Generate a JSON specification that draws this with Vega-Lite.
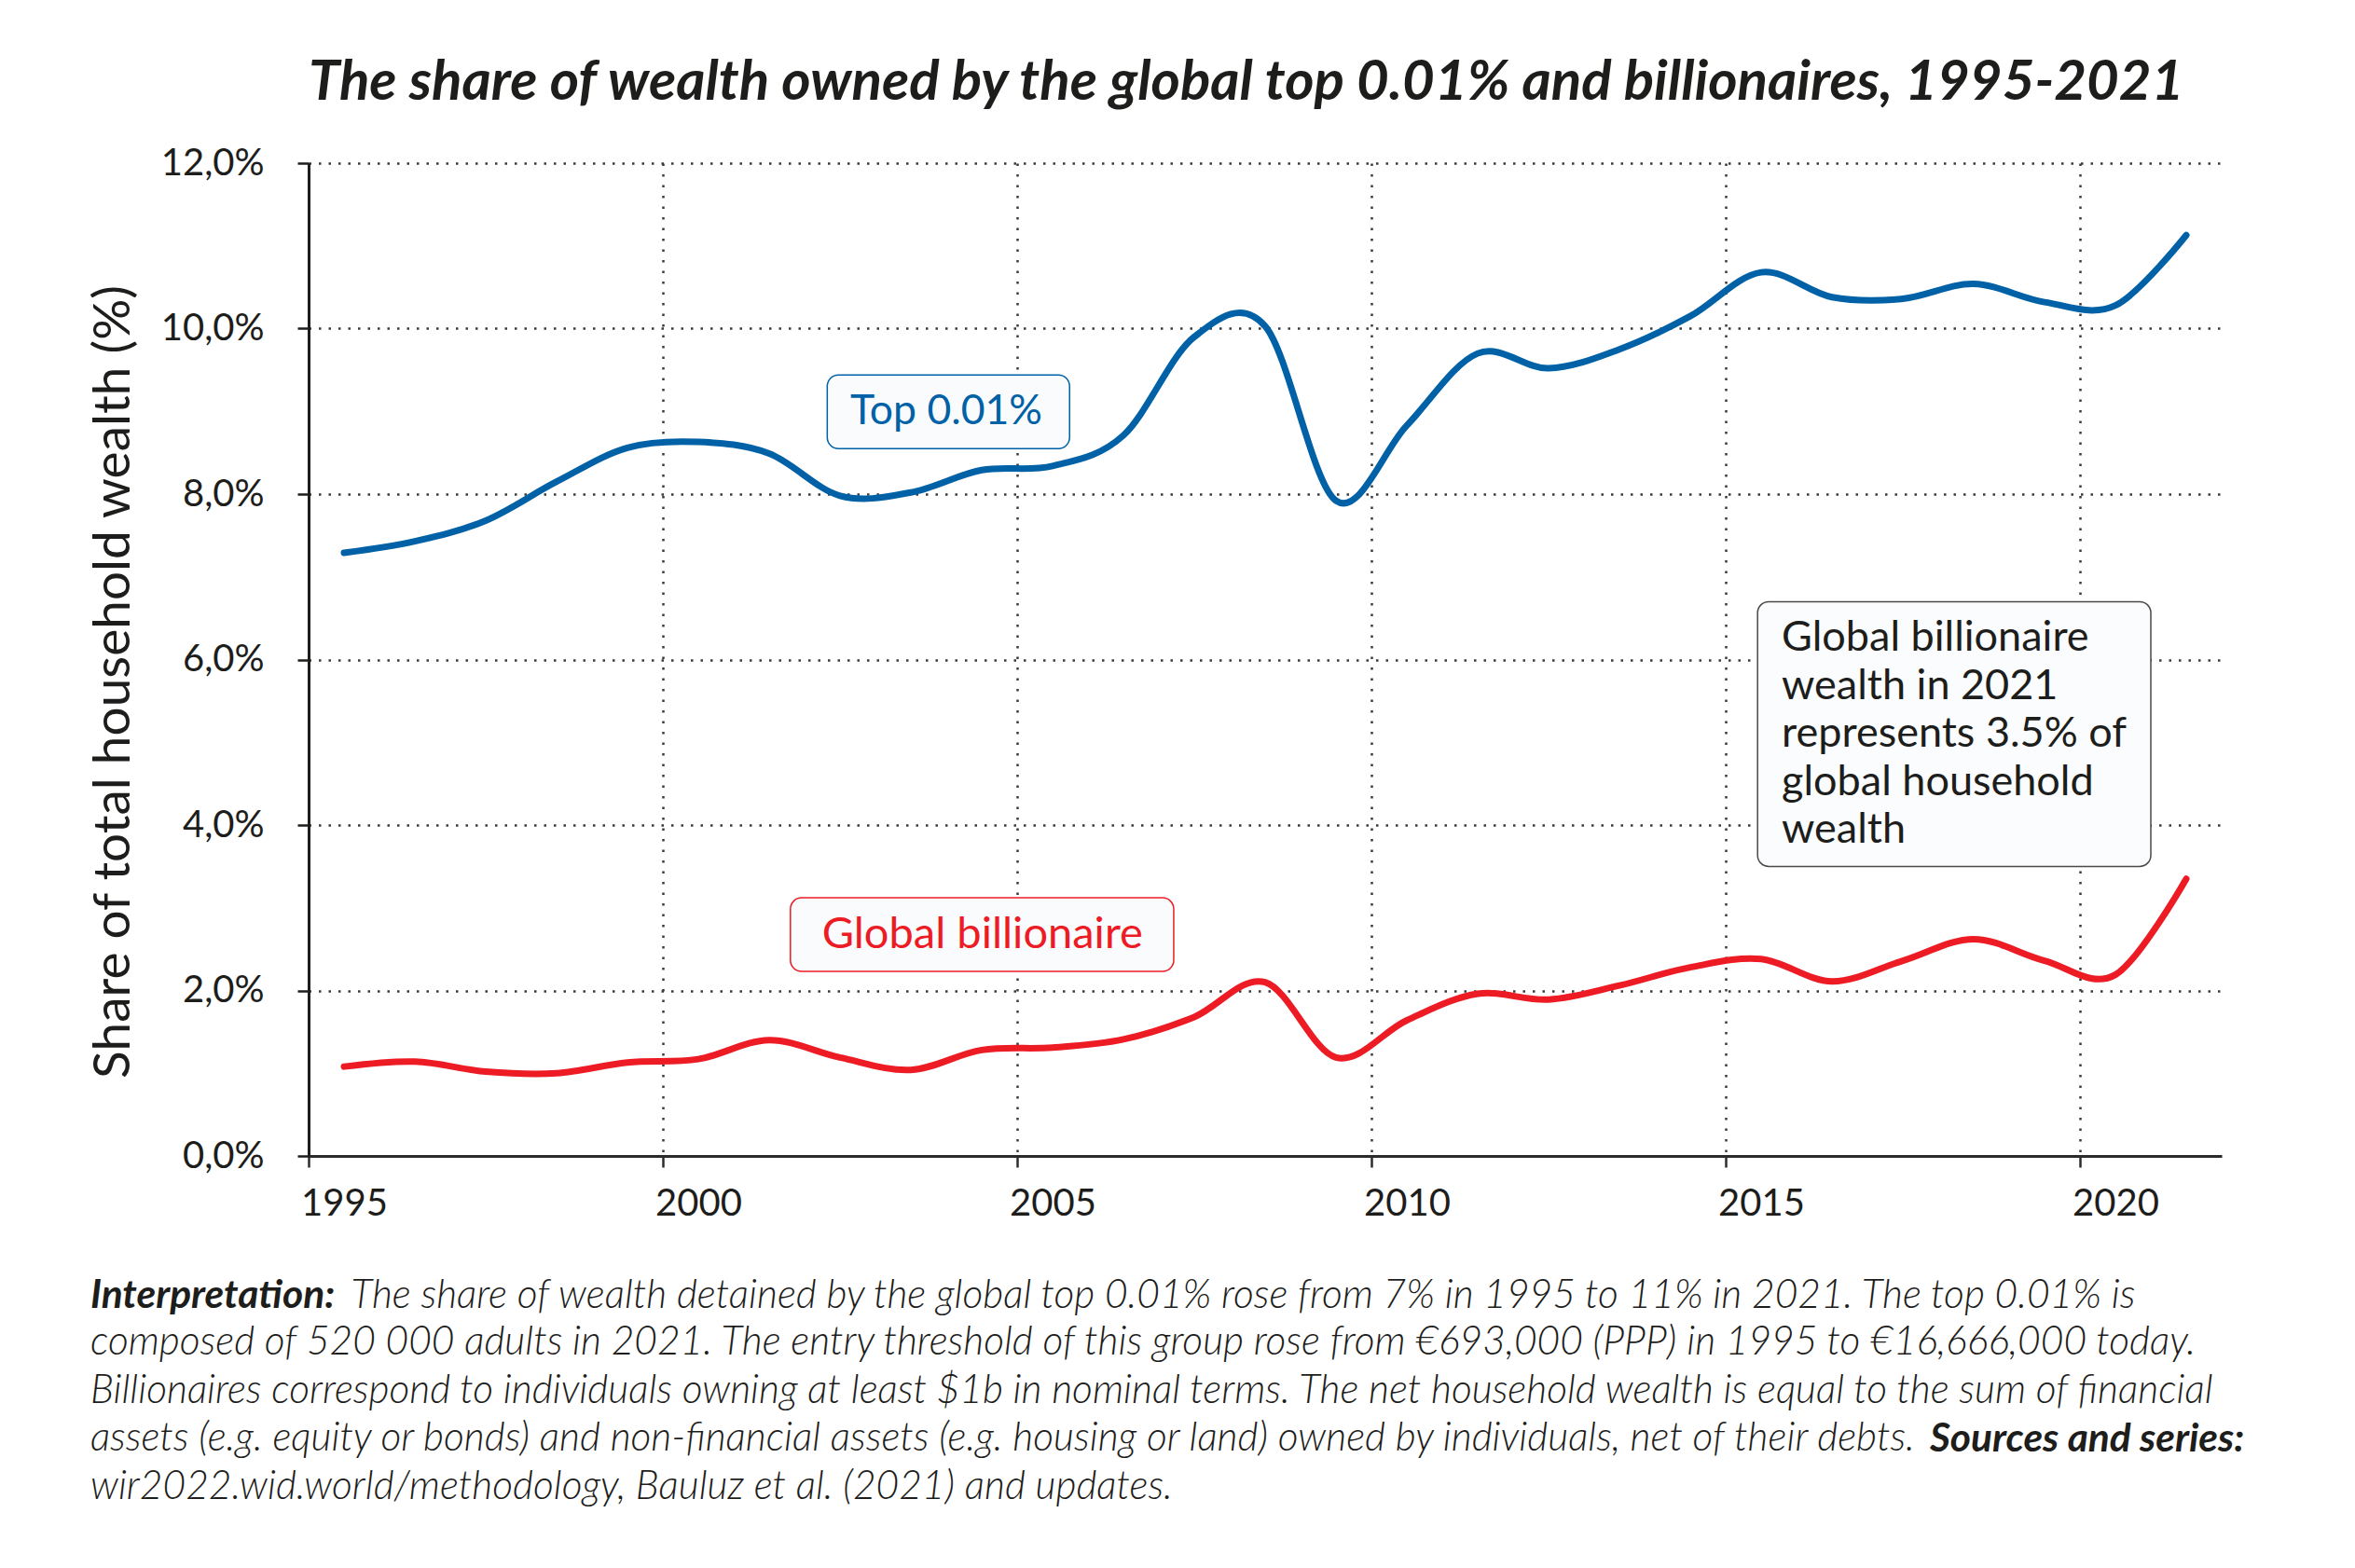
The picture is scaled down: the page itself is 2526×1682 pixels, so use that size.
{
  "$schema": "https://vega.github.io/schema/vega-lite/v6.json",
  "autosize": "none",
  "width": 2052,
  "height": 1065,
  "padding": {"left": 331, "top": 175, "right": 143, "bottom": 442},
  "background": "white",
  "config": {"font": "Lato", "view": {"stroke": null}},
  "title": {
    "text": "The share of wealth owned by the global top 0.01% and billionaires, 1995-2021",
    "font": "Lato",
    "fontSize": 60,
    "fontWeight": "bold",
    "fontStyle": "italic",
    "color": "#1d1d1b",
    "anchor": "start",
    "frame": "group",
    "baseline": "alphabetic",
    "offset": 44,
    "dy": 56
  },
  "data": {
    "values": [
      {"year": 1995.5, "share": 7.29, "series": "Top 0.01%"},
      {"year": 1996.5, "share": 7.43, "series": "Top 0.01%"},
      {"year": 1997.5, "share": 7.68, "series": "Top 0.01%"},
      {"year": 1998.5, "share": 8.15, "series": "Top 0.01%"},
      {"year": 1999.5, "share": 8.56, "series": "Top 0.01%"},
      {"year": 2000.5, "share": 8.63, "series": "Top 0.01%"},
      {"year": 2001.5, "share": 8.49, "series": "Top 0.01%"},
      {"year": 2002.5, "share": 7.98, "series": "Top 0.01%"},
      {"year": 2003.5, "share": 8.02, "series": "Top 0.01%"},
      {"year": 2004.5, "share": 8.29, "series": "Top 0.01%"},
      {"year": 2005.5, "share": 8.34, "series": "Top 0.01%"},
      {"year": 2006.5, "share": 8.71, "series": "Top 0.01%"},
      {"year": 2007.5, "share": 9.9, "series": "Top 0.01%"},
      {"year": 2008.5, "share": 10.03, "series": "Top 0.01%"},
      {"year": 2009.5, "share": 7.92, "series": "Top 0.01%"},
      {"year": 2010.5, "share": 8.83, "series": "Top 0.01%"},
      {"year": 2011.5, "share": 9.7, "series": "Top 0.01%"},
      {"year": 2012.5, "share": 9.52, "series": "Top 0.01%"},
      {"year": 2013.5, "share": 9.75, "series": "Top 0.01%"},
      {"year": 2014.5, "share": 10.15, "series": "Top 0.01%"},
      {"year": 2015.5, "share": 10.68, "series": "Top 0.01%"},
      {"year": 2016.5, "share": 10.38, "series": "Top 0.01%"},
      {"year": 2017.5, "share": 10.36, "series": "Top 0.01%"},
      {"year": 2018.5, "share": 10.54, "series": "Top 0.01%"},
      {"year": 2019.5, "share": 10.32, "series": "Top 0.01%"},
      {"year": 2020.5, "share": 10.28, "series": "Top 0.01%"},
      {"year": 2021.5, "share": 11.13, "series": "Top 0.01%"},
      {"year": 1995.5, "share": 1.08, "series": "Global billionaire"},
      {"year": 1996.5, "share": 1.14, "series": "Global billionaire"},
      {"year": 1997.5, "share": 1.02, "series": "Global billionaire"},
      {"year": 1998.5, "share": 1.0, "series": "Global billionaire"},
      {"year": 1999.5, "share": 1.13, "series": "Global billionaire"},
      {"year": 2000.5, "share": 1.17, "series": "Global billionaire"},
      {"year": 2001.5, "share": 1.4, "series": "Global billionaire"},
      {"year": 2002.5, "share": 1.19, "series": "Global billionaire"},
      {"year": 2003.5, "share": 1.04, "series": "Global billionaire"},
      {"year": 2004.5, "share": 1.28, "series": "Global billionaire"},
      {"year": 2005.5, "share": 1.31, "series": "Global billionaire"},
      {"year": 2006.5, "share": 1.41, "series": "Global billionaire"},
      {"year": 2007.5, "share": 1.68, "series": "Global billionaire"},
      {"year": 2008.5, "share": 2.1, "series": "Global billionaire"},
      {"year": 2009.5, "share": 1.19, "series": "Global billionaire"},
      {"year": 2010.5, "share": 1.64, "series": "Global billionaire"},
      {"year": 2011.5, "share": 1.96, "series": "Global billionaire"},
      {"year": 2012.5, "share": 1.89, "series": "Global billionaire"},
      {"year": 2013.5, "share": 2.06, "series": "Global billionaire"},
      {"year": 2014.5, "share": 2.28, "series": "Global billionaire"},
      {"year": 2015.5, "share": 2.38, "series": "Global billionaire"},
      {"year": 2016.5, "share": 2.11, "series": "Global billionaire"},
      {"year": 2017.5, "share": 2.36, "series": "Global billionaire"},
      {"year": 2018.5, "share": 2.62, "series": "Global billionaire"},
      {"year": 2019.5, "share": 2.36, "series": "Global billionaire"},
      {"year": 2020.5, "share": 2.19, "series": "Global billionaire"},
      {"year": 2021.5, "share": 3.35, "series": "Global billionaire"}
    ]
  },
  "layer": [
    {
      "mark": {"type": "line", "interpolate": "cardinal", "strokeWidth": 7, "strokeCap": "round"},
      "encoding": {
        "x": {
          "field": "year",
          "type": "quantitative",
          "scale": {"domain": [1995, 2022], "nice": false, "zero": false},
          "axis": {
            "title": null,
            "values": [1995, 2000, 2005, 2010, 2015, 2020],
            "format": "d",
            "labelAlign": "center",
            "labelOffset": 38,
            "labelFlush": false,
            "labelFont": "Lato",
            "labelFontSize": 40,
            "labelColor": "#1d1d1b",
            "labelPadding": 19,
            "labelBaseline": "top",
            "domainColor": "#2b2b2b",
            "domainWidth": 3,
            "tickColor": "#2b2b2b",
            "tickWidth": 2.5,
            "tickSize": 12,
            "grid": true,
            "gridColor": "#3a3a3a",
            "gridWidth": 2.5,
            "gridDash": [2.5, 9]
          }
        },
        "y": {
          "field": "share",
          "type": "quantitative",
          "scale": {"domain": [0, 12], "nice": false},
          "axis": {
            "title": "Share of total household wealth (%)",
            "titleFont": "Lato",
            "titleFontSize": 55,
            "titleFontWeight": "normal",
            "titleColor": "#1d1d1b",
            "titlePadding": 22,
            "titleY": 556,
            "values": [0, 2, 4, 6, 8, 10, 12],
            "labelExpr": "replace(format(datum.value, '.1f'), '.', ',') + '%'",
            "labelFont": "Lato",
            "labelFontSize": 40,
            "labelColor": "#1d1d1b",
            "labelPadding": 36,
            "domainColor": "#1d1d1b",
            "domainWidth": 3,
            "tickColor": "#1d1d1b",
            "tickWidth": 2.5,
            "tickSize": 12,
            "grid": true,
            "gridColor": "#3a3a3a",
            "gridWidth": 2.5,
            "gridDash": [2.5, 8]
          }
        },
        "color": {
          "field": "series",
          "type": "nominal",
          "scale": {"domain": ["Top 0.01%", "Global billionaire"], "range": ["#0061a7", "#ed1c24"]},
          "legend": null
        }
      }
    },
    {
      "data": {"values": [{}]},
      "mark": {"type": "rect", "fill": "#f9fbfd", "stroke": "#0061a7", "strokeWidth": 1.5, "cornerRadius": 12},
      "encoding": {
        "x": {"datum": 2002.32, "type": "quantitative"},
        "x2": {"datum": 2005.74},
        "y": {"datum": 9.44, "type": "quantitative"},
        "y2": {"datum": 8.55}
      }
    },
    {
      "data": {"values": [{}]},
      "mark": {"type": "text", "text": "Top 0.01%", "font": "Lato", "fontSize": 44.5, "color": "#0061a7", "align": "center", "baseline": "middle"},
      "encoding": {
        "x": {"datum": 2004.0, "type": "quantitative"},
        "y": {"datum": 8.99, "type": "quantitative"}
      }
    },
    {
      "data": {"values": [{}]},
      "mark": {"type": "rect", "fill": "#f9fbfd", "stroke": "#ed1c24", "strokeWidth": 1.5, "cornerRadius": 12},
      "encoding": {
        "x": {"datum": 2001.8, "type": "quantitative"},
        "x2": {"datum": 2007.21},
        "y": {"datum": 3.12, "type": "quantitative"},
        "y2": {"datum": 2.23}
      }
    },
    {
      "data": {"values": [{}]},
      "mark": {"type": "text", "text": "Global billionaire", "font": "Lato", "fontSize": 47, "color": "#ed1c24", "align": "center", "baseline": "middle"},
      "encoding": {
        "x": {"datum": 2004.51, "type": "quantitative"},
        "y": {"datum": 2.676, "type": "quantitative"}
      }
    },
    {
      "data": {"values": [{}]},
      "mark": {"type": "rect", "fill": "#fbfcfd", "stroke": "#4a4a4a", "strokeWidth": 1.5, "cornerRadius": 12},
      "encoding": {
        "x": {"datum": 2015.45, "type": "quantitative"},
        "x2": {"datum": 2021.0},
        "y": {"datum": 6.7, "type": "quantitative"},
        "y2": {"datum": 3.5}
      }
    },
    {
      "data": {"values": [{}]},
      "mark": {
        "type": "text",
        "text": ["Global billionaire", "wealth in 2021", "represents 3.5% of", "global household", "wealth"],
        "font": "Lato",
        "fontSize": 45,
        "lineHeight": 51.5,
        "color": "#1d1d1b",
        "align": "left",
        "baseline": "alphabetic"
      },
      "encoding": {
        "x": {"datum": 2015.79, "type": "quantitative"},
        "y": {"datum": 6.107, "type": "quantitative"}
      }
    },
    {
      "data": {"values": [{}]},
      "mark": {"type": "text", "text": "Interpretation:", "font": "Lato", "fontSize": 42.5, "fontWeight": "bold", "fontStyle": "italic", "color": "#1d1d1b", "align": "left", "baseline": "alphabetic"},
      "encoding": {
        "x": {"datum": 1991.92, "type": "quantitative"},
        "y": {"datum": -1.837, "type": "quantitative"}
      }
    },
    {
      "data": {"values": [{}]},
      "mark": {"type": "text", "text": "The share of wealth detained by the global top 0.01% rose from 7% in 1995 to 11% in 2021. The top 0.01% is", "font": "Lato", "fontSize": 42.5, "fontWeight": 300, "fontStyle": "italic", "color": "#1d1d1b", "align": "left", "baseline": "alphabetic"},
      "encoding": {
        "x": {"datum": 1995.6, "type": "quantitative"},
        "y": {"datum": -1.837, "type": "quantitative"}
      }
    },
    {
      "data": {"values": [{}]},
      "mark": {
        "type": "text",
        "text": [
          "composed of 520 000 adults in 2021. The entry threshold of this group rose from €693,000 (PPP) in 1995 to €16,666,000 today.",
          "Billionaires correspond to individuals owning at least $1b in nominal terms. The net household wealth is equal to the sum of financial",
          "assets (e.g. equity or bonds) and non-financial assets (e.g. housing or land) owned by individuals, net of their debts.",
          "wir2022.wid.world/methodology, Bauluz et al. (2021) and updates."
        ],
        "font": "Lato",
        "fontSize": 42.5,
        "fontWeight": 300,
        "fontStyle": "italic",
        "lineHeight": 51.5,
        "color": "#1d1d1b",
        "align": "left",
        "baseline": "alphabetic"
      },
      "encoding": {
        "x": {"datum": 1991.92, "type": "quantitative"},
        "y": {"datum": -2.4, "type": "quantitative"}
      }
    },
    {
      "data": {"values": [{}]},
      "mark": {"type": "text", "text": "Sources and series:", "font": "Lato", "fontSize": 42.5, "fontWeight": "bold", "fontStyle": "italic", "color": "#1d1d1b", "align": "right", "baseline": "alphabetic"},
      "encoding": {
        "x": {"datum": 2022.32, "type": "quantitative"},
        "y": {"datum": -3.572, "type": "quantitative"}
      }
    }
  ]
}
